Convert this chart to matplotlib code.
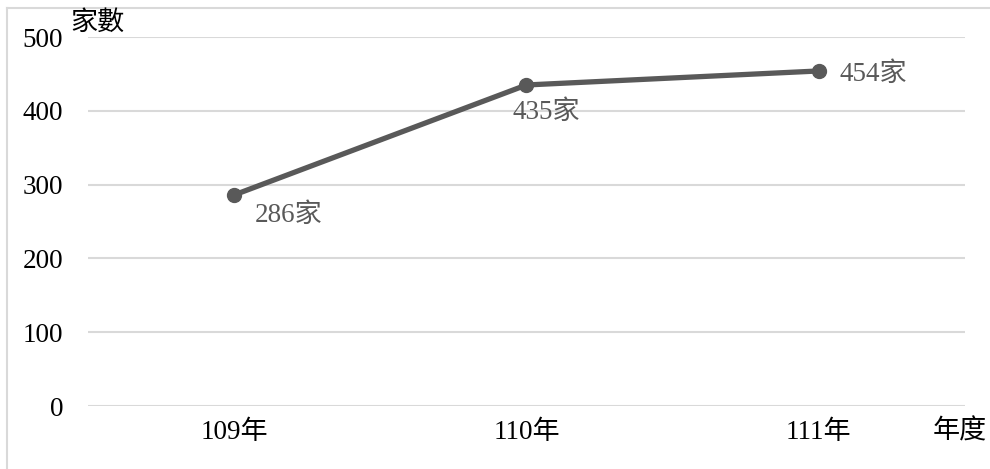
import matplotlib
matplotlib.use("Agg")
import matplotlib.pyplot as plt
from matplotlib.lines import Line2D

plt.rcParams["font.family"] = ["Liberation Serif", "Noto Sans CJK TC", "DejaVu Sans"]

years = ["109年", "110年", "111年"]
counts = [286, 435, 454]
point_labels = ["286家", "435家", "454家"]
y_ticks = [0, 100, 200, 300, 400, 500]

LINE_COL = "#595959"
GRID_COL = "#d9d9d9"
FS = 19.5

fig = plt.figure(figsize=(9.9, 4.69), dpi=100)
ax = fig.add_axes([0.0889, 0.1343, 0.8858, 0.7868])

x = list(range(len(years)))
ax.plot(x, counts, "-o", color=LINE_COL, linewidth=3.8, markersize=10, zorder=3)

# data labels: offsets in points (right-below, below, right)
offsets = [(15, -14.5), (-10, -20), (15, -2.5)]
for xi, v, lab, off in zip(x, counts, point_labels, offsets):
    ax.annotate(lab, (xi, v), xytext=off, textcoords="offset points",
                ha="left", va="center", fontsize=FS, color=LINE_COL)

ax.set_xlim(-0.5, len(years) - 0.5)
ax.set_ylim(0, 500)
ax.set_yticks(y_ticks)
ax.set_xticks(x)
ax.set_xticklabels(years)
ax.tick_params(axis="both", length=0, labelsize=FS, colors="#000000")
ax.tick_params(axis="y", pad=18)
ax.tick_params(axis="x", pad=10)
ax.grid(axis="y", color=GRID_COL, linewidth=1.5)
ax.set_axisbelow(True)
for s in ax.spines.values():
    s.set_visible(False)

fig.text(70 / 990, 1 - 23 / 469, "家數", fontsize=FS, va="center", ha="left")
fig.text(933 / 990, 1 - 432 / 469, "年度", fontsize=FS, va="center", ha="left")

# outer chart border (top and left visible)
fig.add_artist(Line2D([7 / 990, 7 / 990], [0, 1 - 8 / 469], transform=fig.transFigure,
                      color=GRID_COL, linewidth=1.5))
fig.add_artist(Line2D([7 / 990, 1], [1 - 8 / 469, 1 - 8 / 469], transform=fig.transFigure,
                      color=GRID_COL, linewidth=1.5))

fig.savefig("out.png", dpi=100)
